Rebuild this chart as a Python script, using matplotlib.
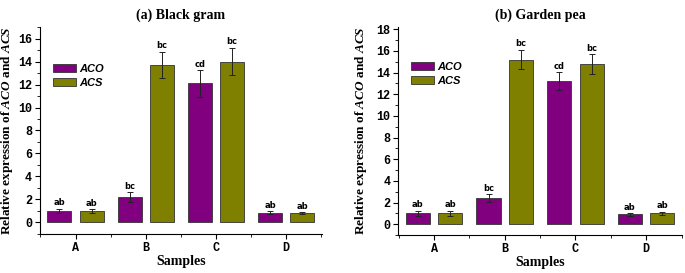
import numpy as np
import matplotlib
matplotlib.use('Agg')
import matplotlib.pyplot as plt
from matplotlib.ticker import MultipleLocator

plt.rcParams['mathtext.fontset'] = 'custom'
plt.rcParams['mathtext.rm'] = 'Liberation Serif:bold'
plt.rcParams['mathtext.it'] = 'Liberation Serif:bold:italic'

samples = ['A', 'B', 'C', 'D']

# (a) Black gram
bg_aco = [1.0, 2.2, 12.1, 0.85]
bg_aco_err = [0.2, 0.45, 1.15, 0.15]
bg_acs = [1.0, 13.7, 14.0, 0.8]
bg_acs_err = [0.15, 1.15, 1.2, 0.1]
bg_aco_lbl = ['ab', 'bc', 'cd', 'ab']
bg_acs_lbl = ['ab', 'bc', 'bc', 'ab']

# (b) Garden pea
gp_aco = [1.0, 2.4, 13.2, 0.9]
gp_aco_err = [0.25, 0.35, 0.85, 0.1]
gp_acs = [1.0, 15.2, 14.8, 1.0]
gp_acs_err = [0.25, 0.9, 0.9, 0.15]
gp_aco_lbl = ['ab', 'bc', 'cd', 'ab']
gp_acs_lbl = ['ab', 'bc', 'bc', 'ab']

purple = '#800080'
olive = '#808000'


def draw_panel(ax, aco, aco_err, acs, acs_err, aco_lbl, acs_lbl, title, ytop, leg_y, ypad):
    x = np.arange(len(samples))
    w = 0.34
    off = 0.23
    ekw = dict(ecolor='#222222', elinewidth=0.7, capsize=2, capthick=0.7)
    ax.bar(x - off, aco, w, color=purple, edgecolor='#333333', linewidth=0.6,
           yerr=aco_err, error_kw=ekw, label='ACO')
    ax.bar(x + off, acs, w, color=olive, edgecolor='#333333', linewidth=0.6,
           yerr=acs_err, error_kw=ekw, label='ACS')
    for i in range(len(samples)):
        ax.text(x[i] - off, aco[i] + aco_err[i] + 0.12, aco_lbl[i], ha='center', va='bottom',
                fontsize=6, fontweight='bold', family='DejaVu Sans')
        ax.text(x[i] + off, acs[i] + acs_err[i] + 0.12, acs_lbl[i], ha='center', va='bottom',
                fontsize=6, fontweight='bold', family='DejaVu Sans')
    ax.set_xlim(-0.51, 3.51)
    ax.set_ylim(-1, ytop)
    ax.set_xticks(x)
    ax.set_xticklabels(samples)
    ax.xaxis.set_minor_locator(MultipleLocator(0.5))
    ax.yaxis.set_major_locator(MultipleLocator(2))
    ax.yaxis.set_minor_locator(MultipleLocator(1))
    for s in ['top', 'right']:
        ax.spines[s].set_visible(False)
    for s in ['left', 'bottom']:
        ax.spines[s].set_linewidth(0.8)
    ax.tick_params(which='major', length=3.5, width=0.8, direction='out', pad=2)
    ax.tick_params(which='minor', length=2, width=0.6, direction='out')
    for lab in ax.get_xticklabels() + ax.get_yticklabels():
        lab.set_family('Liberation Mono')
        lab.set_fontweight('bold')
        lab.set_fontsize(8.5)
    ax.set_title(title, fontsize=10, fontweight='bold', family='Liberation Serif', pad=6)
    ax.set_xlabel('Samples', fontsize=10, fontweight='bold', family='Liberation Serif', labelpad=1)
    ax.set_ylabel(r'Relative expression of $\mathit{ACO}$ and $\mathit{ACS}$', fontsize=9.5,
                  fontweight='bold', family='Liberation Serif', labelpad=ypad)
    leg = ax.legend(loc='upper left', bbox_to_anchor=(0.01, leg_y), frameon=False,
                    handlelength=2.1, handleheight=0.8, labelspacing=0.35,
                    handletextpad=0.3,
                    prop=dict(family='Liberation Sans', style='italic', weight='bold', size=8))
    for p in leg.get_patches():
        p.set_edgecolor('#333333')


fig = plt.figure(figsize=(6.85, 2.73), dpi=100)
ax1 = fig.add_axes([0.058, 0.143, 0.412, 0.758])
ax2 = fig.add_axes([0.581, 0.139, 0.415, 0.762])

draw_panel(ax1, bg_aco, bg_aco_err, bg_acs, bg_acs_err, bg_aco_lbl, bg_acs_lbl,
           '(a) Black gram', 17, 0.87, 2)
draw_panel(ax2, gp_aco, gp_aco_err, gp_acs, gp_acs_err, gp_aco_lbl, gp_acs_lbl,
           '(b) Garden pea', 18.2, 0.88, 5)

fig.savefig('out.png', dpi=100)
